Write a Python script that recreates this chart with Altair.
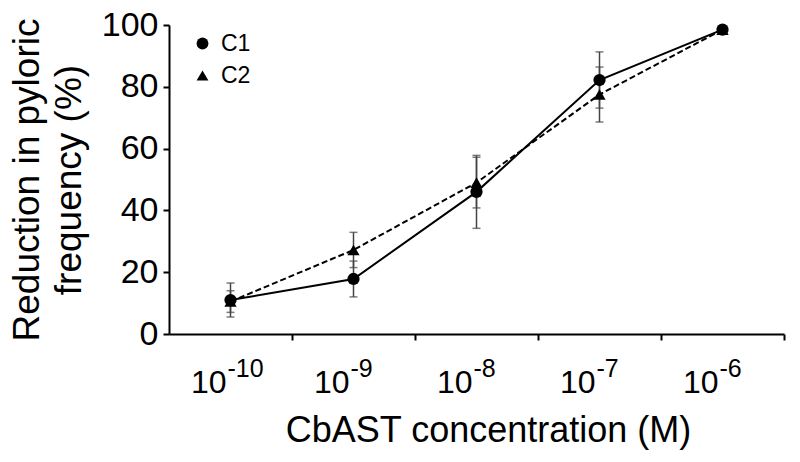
import altair as alt
import pandas as pd

# ---- data ----
exponents = [-10, -9, -8, -7, -6]
c1_mean = [11.0, 17.8, 46.0, 82.2, 98.5]
c1_err = [5.5, 5.8, 11.8, 9.1, 0.5]
c2_mean = [10.5, 27.2, 49.0, 77.5, 98.5]
c2_err = [3.5, 5.7, 8.2, 8.9, 0.5]
series = ["C1", "C2"]
y_ticks = [0, 20, 40, 60, 80, 100]
x_boundaries = [-9.5, -8.5, -7.5, -6.5, -5.5]
label_base = ["10", "10", "10", "10", "10"]
label_exp = ["-10", "-9", "-8", "-7", "-6"]

rows = []
for s, means, errs in [("C1", c1_mean, c1_err), ("C2", c2_mean, c2_err)]:
    for xv, mv, ev in zip(exponents, means, errs):
        rows.append({"series": s, "exp": xv, "mean": mv, "lo": mv - ev, "hi": mv + ev})
df = pd.DataFrame(rows)
lab = pd.DataFrame({"exp": exponents, "base": label_base, "sup": label_exp})

FONT = "Liberation Sans"

xscale = alt.Scale(domain=[-10.5, -5.5], nice=False, zero=False)
yscale = alt.Scale(domain=[0, 100], nice=False)

x_enc = alt.X(
    "exp:Q",
    scale=xscale,
    axis=alt.Axis(
        values=x_boundaries,
        labels=False,
        title="CbAST concentration (M)",
        titleFontSize=36,
        titleFontWeight="normal",
        titleFont=FONT,
        titleColor="black",
        titleX=319,
        titleY=96,
        titleAlign="center",
        titleBaseline="middle",
    ),
)
y_enc = alt.Y(
    "mean:Q",
    scale=yscale,
    axis=alt.Axis(
        values=y_ticks,
        title=["Reduction in pyloric", "frequency (%)"],
        titleFontSize=37,
        titleFontWeight="normal",
        titleFont=FONT,
        titleColor="black",
        titleLineHeight=42,
        titleAngle=-90,
        titleX=-142,
        titleY=154.5,
        titleAlign="center",
        titleBaseline="middle",
        labelFontSize=34,
        labelFont=FONT,
        labelColor="black",
        labelPadding=5,
    ),
)

shape_scale = alt.Scale(domain=series, range=["circle", "triangle-up"])

base = alt.Chart(df)

line_c1 = base.transform_filter(alt.datum.series == "C1").mark_line(
    color="black", strokeWidth=2
).encode(x=x_enc, y=y_enc)

line_c2 = base.transform_filter(alt.datum.series == "C2").mark_line(
    color="black", strokeWidth=2, strokeDash=[6, 3]
).encode(x="exp:Q", y="mean:Q")

err = base.mark_rule(color="#444444", strokeWidth=1.5).encode(
    x="exp:Q", y="lo:Q", y2="hi:Q"
)
cap_lo = base.mark_tick(orient="horizontal", size=8, thickness=1.5, color="#444444").encode(
    x="exp:Q", y="lo:Q"
)
cap_hi = base.mark_tick(orient="horizontal", size=8, thickness=1.5, color="#444444").encode(
    x="exp:Q", y="hi:Q"
)

points = base.mark_point(filled=True, color="black", opacity=1, size=150).encode(
    x="exp:Q",
    y="mean:Q",
    shape=alt.Shape(
        "series:N",
        scale=shape_scale,
        legend=alt.Legend(
            orient="none",
            legendX=22,
            legendY=7,
            title=None,
            labelFontSize=23,
            labelFont=FONT,
            labelColor="black",
            symbolSize=140,
            symbolFillColor="black",
            symbolStrokeColor="black",
            symbolStrokeWidth=0,
            symbolOpacity=1,
            rowPadding=8,
            labelOffset=7,
            padding=0,
        ),
    ),
)

lab_base = alt.Chart(lab).mark_text(
    align="right", baseline="alphabetic", fontSize=32, font=FONT, color="black", dx=-4
).encode(x="exp:Q", y=alt.value(368), text="base:N")

lab_sup = alt.Chart(lab).mark_text(
    align="left", baseline="alphabetic", fontSize=25, font=FONT, color="black", dx=-3
).encode(x="exp:Q", y=alt.value(352), text="sup:N")

chart = (
    alt.layer(line_c1, line_c2, err, cap_lo, cap_hi, points, lab_base, lab_sup)
    .properties(
        width=615,
        height=309,
        autosize=alt.AutoSizeParams(type="none"),
        padding={"left": 161, "top": 17, "right": 8, "bottom": 120},
    )
    .configure_view(stroke=None)
    .configure_axis(
        grid=False,
        domainColor="black",
        domainWidth=2,
        tickColor="black",
        tickWidth=2,
        tickSize=6,
    )
)

chart.save("out.html", embed_options={"renderer": "svg", "actions": False})
